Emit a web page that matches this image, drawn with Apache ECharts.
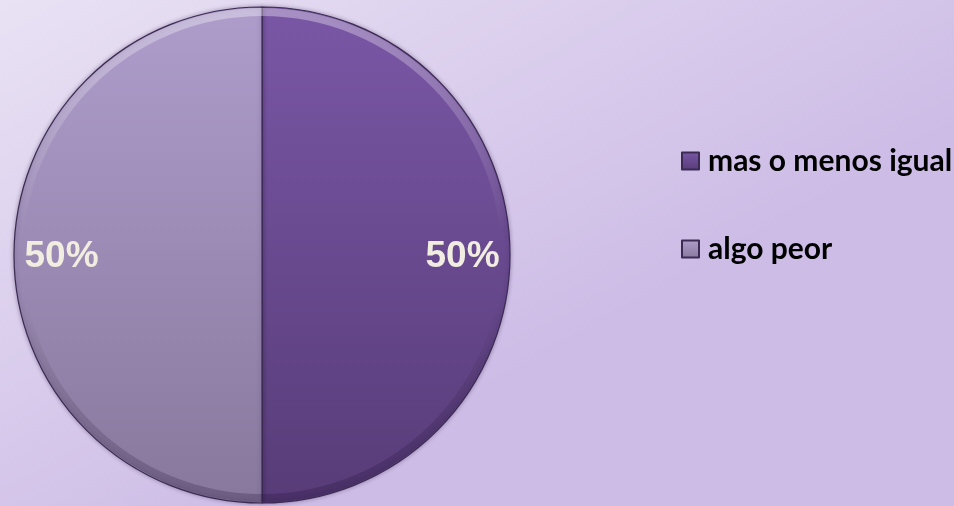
<!DOCTYPE html>
<html>
<head>
<meta charset="utf-8">
<script src="https://cdn.jsdelivr.net/npm/echarts@6/dist/echarts.min.js"></script>
<style>
  html, body { margin: 0; padding: 0; }
  #chart { width: 954px; height: 506px; }
</style>
</head>
<body>
<div id="chart"></div>
<script>
const categories = ['mas o menos igual', 'algo peor'];
const values = [50, 50];

// slice colours (top -> bottom gradient)
const sliceColors = [
  ['#7a57a6', '#573c78'],
  ['#ae9dcb', '#88789d']
];

const chart = echarts.init(document.getElementById('chart'));

function grad(c) {
  return new echarts.graphic.LinearGradient(0, 0, 0, 1, [
    { offset: 0, color: c[0] },
    { offset: 1, color: c[1] }
  ]);
}

const pieData = categories.map((name, i) => ({
  name: name,
  value: values[i],
  itemStyle: { color: grad(sliceColors[i]) }
}));

// thin rim on the edge for the bevel look
const rimColor = new echarts.graphic.LinearGradient(0, 0, 0, 1, [
  { offset: 0, color: 'rgba(255,255,255,0.35)' },
  { offset: 0.45, color: 'rgba(255,255,255,0)' },
  { offset: 0.6, color: 'rgba(0,0,0,0)' },
  { offset: 1, color: 'rgba(30,10,50,0.25)' }
]);

const option = {
  backgroundColor: new echarts.graphic.LinearGradient(0, 0, 0.3, 1, [
    { offset: 0, color: '#e9e2f4' },
    { offset: 1, color: '#cdbce6' }
  ]),
  legend: {
    orient: 'vertical',
    left: 676,
    top: 141,
    icon: 'rect',
    itemWidth: 17,
    itemHeight: 17,
    itemGap: 58,
    data: categories,
    textStyle: {
      fontFamily: 'Lato',
      fontWeight: 'bold',
      fontSize: 30,
      color: '#000',
      padding: [0, 0, 0, 4]
    }
  },
  series: [
    {
      name: 'pie',
      type: 'pie',
      center: [262, 255],
      radius: 248,
      startAngle: 90,
      clockwise: true,
      silent: true,
      label: { show: false },
      labelLine: { show: false },
      itemStyle: {
        borderColor: '#3b2b52',
        borderWidth: 1.2,
        shadowBlur: 4,
        shadowColor: 'rgba(40,20,60,0.35)'
      },
      data: pieData
    },
    {
      name: 'rim',
      type: 'pie',
      center: [262, 255],
      radius: [239, 247],
      startAngle: 90,
      clockwise: true,
      silent: true,
      legendHoverLink: false,
      label: { show: false },
      labelLine: { show: false },
      itemStyle: { color: rimColor, borderWidth: 0 },
      data: categories.map((name, i) => ({ name: name, value: values[i] }))
    },
    {
      name: 'labels',
      type: 'pie',
      center: [262, 257],
      radius: [147, 248],
      startAngle: 90,
      clockwise: true,
      silent: true,
      legendHoverLink: false,
      itemStyle: { color: 'rgba(0,0,0,0)' },
      label: {
        show: true,
        position: 'inside',
        formatter: '{d}%',
        fontFamily: 'Liberation Sans',
        fontWeight: 'bold',
        fontSize: 37,
        color: '#f1ede0'
      },
      labelLine: { show: false },
      data: categories.map((name, i) => ({ name: name, value: values[i] }))
    }
  ]
};
chart.setOption(option);
</script>
</body>
</html>
